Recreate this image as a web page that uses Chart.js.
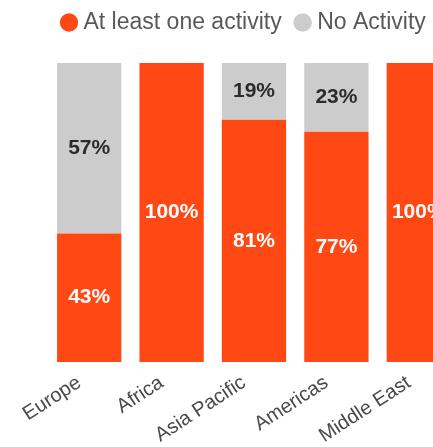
<!DOCTYPE html>
<html>
<head>
<meta charset="utf-8">
<script src="https://cdn.jsdelivr.net/npm/chart.js@4.4.0/dist/chart.umd.min.js"></script>
<style>
    html, body { margin: 0; padding: 0; background: #ffffff; overflow: hidden; }
    #wrap { width: 460px; height: 449px; position: relative; }
</style>
</head>
<body>
<div id="wrap"><canvas id="regionChart"></canvas></div>
<script>
const regions = ['Europe', 'Africa', 'Asia Pacific', 'Americas', 'Middle East'];
const atLeastOne = [43, 100, 81, 77, 100];
const noActivity = [57, 0, 19, 23, 0];

const orange = '#FF4814';
const grey = '#CCCCCC';

// draws the % value in the middle of every bar segment
const segmentLabels = {
    id: 'segmentLabels',
    afterDatasetsDraw(chart) {
        const ctx = chart.ctx;
        ctx.save();
        ctx.font = 'bold 21px "Liberation Sans", Arial, sans-serif';
        ctx.textAlign = 'center';
        ctx.textBaseline = 'middle';
        chart.data.datasets.forEach((ds, i) => {
            const meta = chart.getDatasetMeta(i);
            meta.data.forEach((bar, j) => {
                const v = ds.data[j];
                if (!v) return;
                ctx.fillStyle = ds.labelColor;
                ctx.fillText(v + '%', bar.x, (bar.y + bar.base) / 2);
            });
        });
        ctx.restore();
    }
};

// extra room under the legend
const legendGap = {
    id: 'legendGap',
    beforeInit(chart) {
        const fit = chart.legend.fit;
        chart.legend.fit = function () {
            fit.bind(chart.legend)();
            this.height += 19;
        };
    }
};

new Chart(document.getElementById('regionChart'), {
    type: 'bar',
    data: {
        labels: regions,
        datasets: [{
            label: 'At least one activity',
            data: atLeastOne,
            backgroundColor: orange,
            labelColor: '#ffffff',
            borderWidth: 0
        }, {
            label: 'No Activity',
            data: noActivity,
            backgroundColor: grey,
            labelColor: '#2b2b2b',
            borderWidth: 0
        }]
    },
    options: {
        responsive: true,
        maintainAspectRatio: false,
        animation: false,
        datasets: {
            bar: {
                categoryPercentage: 1,
                barPercentage: 0.78
            }
        },
        layout: {
            padding: { top: -7, left: 48, right: 0, bottom: 0 }
        },
        plugins: {
            tooltip: { enabled: false },
            legend: {
                position: 'top',
                align: 'start',
                labels: {
                    usePointStyle: true,
                    pointStyle: 'circle',
                    boxWidth: 6,
                    boxHeight: 13,
                    padding: 18,
                    color: '#595959',
                    font: { family: '"Liberation Sans", Arial, sans-serif', size: 23 }
                }
            }
        },
        scales: {
            x: {
                stacked: true,
                grid: { display: false },
                border: { display: false },
                ticks: {
                    minRotation: 33,
                    maxRotation: 33,
                    padding: 1,
                    labelOffset: -10,
                    color: '#4a4a4a',
                    font: { family: '"Liberation Sans", Arial, sans-serif', size: 20 }
                }
            },
            y: {
                stacked: true,
                display: false,
                min: 0,
                max: 100
            }
        }
    },
    plugins: [segmentLabels, legendGap]
});
</script>
</body>
</html>
